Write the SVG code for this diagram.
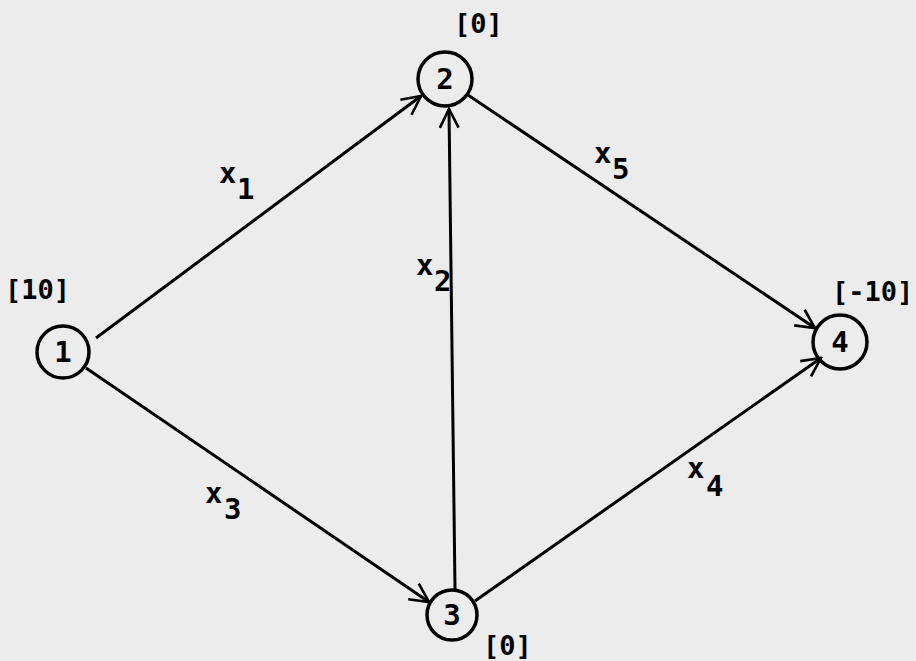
<svg xmlns="http://www.w3.org/2000/svg" width="916" height="661" viewBox="0 0 916 661">
<style>
.node circle{fill:none;stroke:#000;stroke-width:3.5}
.nl{font-family:"DejaVu Sans Mono","Liberation Mono",monospace;font-size:29px;font-weight:bold;fill:#000;text-anchor:middle}
.val{font-family:"DejaVu Sans Mono","Liberation Mono",monospace;font-size:27px;font-weight:bold;fill:#000}
.el{font-family:"DejaVu Sans Mono","Liberation Mono",monospace;font-size:29px;font-weight:bold;fill:#000}
.edge{stroke:#000;stroke-width:3;fill:none;marker-end:url(#arr)}
</style>
<defs>
<marker id="arr" viewBox="0 0 12 12" refX="11" refY="6" markerWidth="7.5" markerHeight="7.5" orient="auto" markerUnits="strokeWidth">
<path d="M1,1 L11,6 L1,11" fill="none" stroke="#000" stroke-width="1.4"/>
</marker>
</defs>
<rect width="916" height="661" fill="#ececec"/>
<g id="connectors">
<line class="edge" x1="96" y1="338" x2="421" y2="96"/>
<line class="edge" x1="468" y1="95" x2="815" y2="328"/>
<line class="edge" x1="455" y1="589" x2="449" y2="109"/>
<line class="edge" x1="86" y1="368" x2="429" y2="602"/>
<line class="edge" x1="475" y1="601" x2="821" y2="358"/>
<text class="el" x="219" y="183">x</text><text class="el" x="237" y="199">1</text>
<text class="el" x="416" y="275">x</text><text class="el" x="434" y="291">2</text>
<text class="el" x="205" y="503">x</text><text class="el" x="224" y="519">3</text>
<text class="el" x="687" y="478">x</text><text class="el" x="706" y="496">4</text>
<text class="el" x="594" y="163">x</text><text class="el" x="612" y="179">5</text>
</g>
<g id="node1" class="node"><circle cx="63" cy="352" r="26"/><text class="nl" x="63" y="362">1</text><text class="val" x="5" y="299">[10]</text></g>
<g id="node2" class="node"><circle cx="445" cy="79" r="27"/><text class="nl" x="445" y="89">2</text><text class="val" x="454" y="33">[0]</text></g>
<g id="node3" class="node"><circle cx="452" cy="615" r="25"/><text class="nl" x="452" y="625">3</text><text class="val" x="483" y="655">[0]</text></g>
<g id="node4" class="node"><circle cx="840" cy="342" r="27"/><text class="nl" x="840" y="352">4</text><text class="val" x="832" y="301">[-10]</text></g>
</svg>
